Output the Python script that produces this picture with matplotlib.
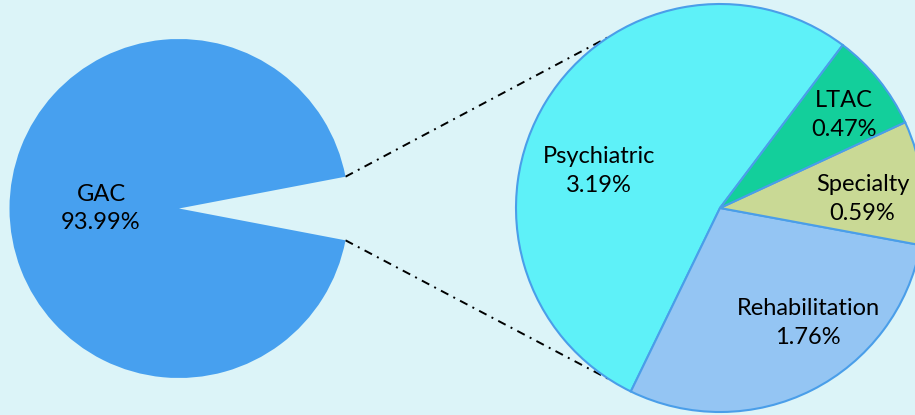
import matplotlib
matplotlib.use("Agg")
import matplotlib.pyplot as plt
import numpy as np

# Data
main_labels = ["GAC", "Other"]
main_values = [93.99, 6.01]
sub_labels = ["Psychiatric", "Rehabilitation", "Specialty", "LTAC"]
sub_values = [3.19, 1.76, 0.59, 0.47]

# Style
bg = "#dcf4f8"
main_color = "#47a0ef"
sub_colors = ["#5ef1f8", "#94c5f3", "#c9d995", "#13cf9b"]
edge = "#4a9ee9"

W, H = 915, 415
fig = plt.figure(figsize=(W / 100, H / 100), dpi=100, facecolor=bg)
ax = fig.add_axes([0, 0, 1, 1])
ax.set_facecolor(bg)

font = ["Lato", "DejaVu Sans"]
fs = 17
ls = 1.45

# Left pie
c1 = (179, H - 208.5)
r1 = 169.5
gap_deg = main_values[1] / sum(main_values) * 360
ax.pie(main_values, colors=[main_color, "none"], center=c1, radius=r1,
       startangle=gap_deg / 2, counterclock=True,
       wedgeprops=dict(linewidth=0))
ax.text(c1[0] - 0.46 * r1, c1[1], f"{main_labels[0]}\n{main_values[0]:.2f}%",
        ha="center", va="center", fontsize=fs, family=font, linespacing=ls)

# Right pie
c2 = (720, H - 208)
r2 = 204
ax.pie(sub_values, colors=sub_colors, center=c2, radius=r2,
       startangle=53, counterclock=True,
       wedgeprops=dict(edgecolor=edge, linewidth=1.5))

label_pos = [(0.62, 163), (0.71, -52.6), (0.70, 3.6), (0.76, 37)]
for lab, val, (d, a) in zip(sub_labels, sub_values, label_pos):
    x = c2[0] + d * r2 * np.cos(np.radians(a))
    y = c2[1] + d * r2 * np.sin(np.radians(a))
    ax.text(x, y, f"{lab}\n{val:.2f}%", ha="center", va="center",
            fontsize=fs, family=font, linespacing=ls)

# Connection lines
half = np.radians(gap_deg / 2)
for sgn in (1, -1):
    p1 = (c1[0] + r1 * np.cos(half), c1[1] + sgn * r1 * np.sin(half))
    a2 = np.radians(180 - sgn * 57.3)
    p2 = (c2[0] + r2 * np.cos(a2), c2[1] + r2 * np.sin(a2))
    ax.plot([p1[0], p2[0]], [p1[1], p2[1]], color="black", lw=1.4,
            linestyle=(0, (4.3, 2.9, 1.0, 2.9)), zorder=0)

ax.set_xlim(0, W)
ax.set_ylim(0, H)
ax.set_aspect("auto")
ax.axis("off")

fig.savefig("out.png", dpi=100, facecolor=bg)
